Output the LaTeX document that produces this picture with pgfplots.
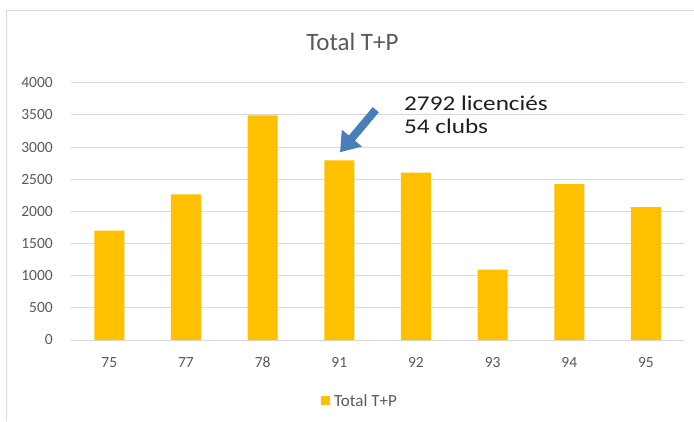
\documentclass[border=0pt]{standalone}
\usepackage{fontspec}
\setmainfont{Carlito}
\newfontfamily\annfont[FakeStretch=1.2]{Carlito}
\usepackage{pgfplots}
\pgfplotsset{compat=1.18}
\usetikzlibrary{arrows.meta}
\definecolor{barcol}{HTML}{FFC000}
\definecolor{txtgray}{HTML}{595959}
\definecolor{gridgray}{HTML}{D9D9D9}
\definecolor{arrowblue}{HTML}{4A7EBB}
\begin{document}
\begin{tikzpicture}
\draw[gridgray, line width=1pt] (6pt,0pt) -- (6pt,410pt) -- (694pt,410pt);
\begin{axis}[
  at={(71pt,81pt)}, anchor=south west,
  scale only axis, width=613.3pt, height=257.3pt,
  xmin=-0.5, xmax=7.5, ymin=0, ymax=4000,
  xtick={0,...,7}, xticklabels={75,77,78,91,92,93,94,95},
  ytick={0,500,...,4000},
  /pgf/number format/1000 sep={},
  /pgf/number format/assume math mode=true,
  axis line style={draw=none},
  major tick length=0pt,
  ymajorgrids, grid style={gridgray, line width=1pt},
  tick label style={font=\fontsize{15.5}{18}\selectfont, text=txtgray},
  xticklabel style={anchor=base, yshift=-27pt},
  yticklabel style={anchor=east, inner sep=0pt, xshift=-18pt},
  legend style={at={(0.4696,-0.237)}, anchor=center, draw=none, fill=none,
    font=\fontsize{17}{19}\selectfont, text=txtgray, inner sep=0pt,
    nodes={inner sep=0pt},
    /tikz/every odd column/.append style={column sep=4pt}},
  legend image code/.code={\fill[barcol] (0pt,-4.5pt) rectangle (9pt,4.5pt);},
  clip=false,
]
\addplot[ybar, bar width=30pt, fill=barcol, draw=none] coordinates {
  (0,1700) (1,2265) (2,3493) (3,2792) (4,2601) (5,1093) (6,2425) (7,2067)
};
\addlegendentry{Total T+P}
\draw[arrowblue, line width=8pt, -{Triangle[width=25pt,length=18.5pt]}]
  (axis cs:3.475,3580) -- (axis cs:3.009,2918);
\end{axis}
\node[anchor=base, text=txtgray, font=\fontsize{25}{30}\selectfont] at (352.5pt,370pt) {Total T+P};
\node[anchor=base west, inner sep=0pt, text=black!88, font=\annfont\fontsize{21}{25}\selectfont] at (404pt,310pt) {2792 licenciés};
\node[anchor=base west, inner sep=0pt, text=black!88, font=\annfont\fontsize{21}{25}\selectfont] at (404pt,287pt) {54 clubs};
\pgfresetboundingbox
\path (0pt,0pt) rectangle (694pt,421pt);
\end{tikzpicture}
\end{document}
